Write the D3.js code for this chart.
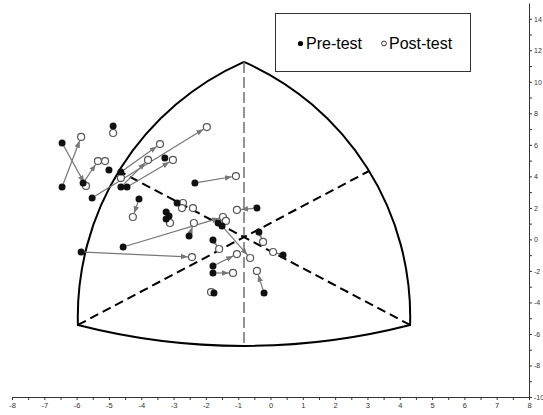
<!DOCTYPE html>
<html>
<head>
<meta charset="utf-8">
<script src="https://cdn.jsdelivr.net/npm/d3@7"></script>
<style>
  html, body { margin: 0; padding: 0; background: #fff; }
  svg { display: block; }
  text { font-family: "Liberation Sans", Arial, sans-serif; }
</style>
</head>
<body>
<div id="chart"></div>
<script>
// ---- data (chart units) ----
const xTickLabels = d3.range(-8, 9, 1);
const yTickLabels = d3.range(-10, 15, 2);

// pre-test points
const preX = [-6.45, -6.45, -5.80, -5.52, -4.87, -5.00, -4.63, -4.63, -4.44, -3.27,
              -2.34, -4.07, -3.23, -3.14, -3.23, -2.89, -0.42, -1.62, -1.50, -2.52,
              -4.56, -5.86, -1.78, -0.36, 0.39, -1.78, -1.78, -0.20, -1.75];
const preY = [6.12, 3.32, 3.58, 2.63, 7.20, 4.40, 4.28, 3.32, 3.32, 5.17,
              3.58, 2.56, 1.74, 1.48, 1.29, 2.31, 1.99, 1.04, 0.85, 0.22,
              -0.48, -0.80, -0.04, 0.47, -0.99, -1.69, -2.13, -3.40, -3.40];
// post-test points
const postX = [-5.71, -5.86, -5.34, -1.97, -4.87, -5.12, -3.42, -4.63, -3.02, -3.79,
               -1.07, -4.26, -3.11, -2.71, -2.74, -2.40, -1.04, -1.47, -1.38, -2.37,
               -0.63, -2.43, -1.59, -0.23, 0.08, -1.04, -1.16, -0.42, -1.84];
const postY = [3.39, 6.50, 4.97, 7.13, 6.75, 4.97, 6.05, 3.90, 5.04, 5.04,
               4.02, 1.42, 1.04, 2.31, 1.99, 1.99, 1.87, 1.42, 1.17, 1.04,
               -1.18, -1.12, -0.61, -0.16, -0.80, -0.93, -2.13, -2.00, -3.34];
// arrows: pre index -> post index
const arrowFrom = [0, 1, 2, 3, 6, 8, 7, 10, 11, 16, 19, 20, 21, 22, 23, 24, 25, 26, 27, 18];
const arrowTo   = [0, 1, 2, 3, 6, 8, 9, 10, 11, 16, 19, 17, 21, 22, 23, 24, 25, 26, 27, 20];

// frame: vertices (top, bottom-left, bottom-right) and arc bulge points (right, bottom, left)
const vertexX = [-0.82, -5.96, 4.32];
const vertexY = [11.26, -5.43, -5.43];
const arcMidX = [3.05, -0.82, -4.69];
const arcMidY = [4.34, -6.76, 4.34];

const legendLabels = ["Pre-test", "Post-test"];

// ---- layout ----
const W = 543, H = 415;
const svg = d3.select("#chart").append("svg").attr("width", W).attr("height", H);

const x = d3.scaleLinear().domain([-8, 8]).range([12, 529]);
const y = d3.scaleLinear().domain([-10, 15]).range([397, 3]);

// axes
const xAxis = d3.axisBottom(x)
  .tickValues(d3.range(-8, 8.01, 0.5))
  .tickFormat(d => Number.isInteger(d) && xTickLabels.includes(d) ? String(d) : "")
  .tickSize(3).tickSizeOuter(0).tickPadding(3);
const gx = svg.append("g").attr("transform", `translate(0,${y(-10)})`).call(xAxis);
gx.selectAll("text").attr("font-size", 7.5).attr("fill", "#333");
gx.selectAll("line,path").attr("stroke", "#333");

const yAxis = d3.axisRight(y)
  .tickValues(d3.range(-10, 15, 1))
  .tickFormat(d => yTickLabels.includes(d) ? String(d) : "")
  .tickSize(3).tickSizeOuter(0).tickPadding(2);
const gy = svg.append("g").attr("transform", `translate(${x(8)},0)`).call(yAxis);
gy.selectAll("text").attr("font-size", 7).attr("fill", "#333");
gy.selectAll("line,path").attr("stroke", "#333");

// ---- frame ----
const V = vertexX.map((vx, i) => [x(vx), y(vertexY[i])]);
const M = arcMidX.map((mx, i) => [x(mx), y(arcMidY[i])]);
const arcDefs = [[0, 2, 0], [2, 1, 1], [1, 0, 2]];

function circleThrough(a, b, c) {
  const d = 2 * (a[0] * (b[1] - c[1]) + b[0] * (c[1] - a[1]) + c[0] * (a[1] - b[1]));
  const a2 = a[0] * a[0] + a[1] * a[1], b2 = b[0] * b[0] + b[1] * b[1], c2 = c[0] * c[0] + c[1] * c[1];
  const ux = (a2 * (b[1] - c[1]) + b2 * (c[1] - a[1]) + c2 * (a[1] - b[1])) / d;
  const uy = (a2 * (c[0] - b[0]) + b2 * (a[0] - c[0]) + c2 * (b[0] - a[0])) / d;
  return [ux, uy, Math.hypot(a[0] - ux, a[1] - uy)];
}
const TAU = Math.PI * 2;
const norm = a => ((a % TAU) + TAU) % TAU;
const framePath = d3.path();
arcDefs.forEach(([i0, i1, mi], k) => {
  const A = V[i0], B = V[i1], P = M[mi];
  const [cx, cy, r] = circleThrough(A, P, B);
  const a0 = Math.atan2(A[1] - cy, A[0] - cx);
  const a1 = Math.atan2(B[1] - cy, B[0] - cx);
  const am = Math.atan2(P[1] - cy, P[0] - cx);
  const cw = norm(am - a0) < norm(a1 - a0);
  if (k === 0) framePath.moveTo(A[0], A[1]);
  framePath.arc(cx, cy, r, a0, a1, !cw);
});
svg.append("path").attr("d", framePath.toString())
  .attr("fill", "none").attr("stroke", "#000").attr("stroke-width", 2);

// dashed medians: vertex -> opposite arc bulge
const medians = [[0, 1], [1, 0], [2, 2]];
medians.forEach(([vi, mi]) => {
  const isVert = vi === 0;
  svg.append("line")
    .attr("x1", V[vi][0]).attr("y1", V[vi][1])
    .attr("x2", M[mi][0]).attr("y2", M[mi][1])
    .attr("stroke", isVert ? "#666" : "#000")
    .attr("stroke-width", isVert ? 1.4 : 2)
    .attr("stroke-dasharray", isVert ? "11,4" : "9,5");
});

// ---- arrows ----
const defs = svg.append("defs");
defs.append("marker").attr("id", "ah")
  .attr("viewBox", "0 0 10 10").attr("refX", 10).attr("refY", 5)
  .attr("markerWidth", 7).attr("markerHeight", 7).attr("markerUnits", "userSpaceOnUse")
  .attr("orient", "auto")
  .append("path").attr("d", "M0,1 L10,5 L0,9 Z").attr("fill", "#777");

const R = 3.5;
arrowFrom.forEach((pi, k) => {
  const qi = arrowTo[k];
  const x1 = x(preX[pi]), y1 = y(preY[pi]), x2 = x(postX[qi]), y2 = y(postY[qi]);
  const L = Math.hypot(x2 - x1, y2 - y1);
  if (L < 2 * R + 2) return;
  const ux = (x2 - x1) / L, uy = (y2 - y1) / L;
  svg.append("line")
    .attr("x1", x1 + ux * R).attr("y1", y1 + uy * R)
    .attr("x2", x2 - ux * (R + 0.6)).attr("y2", y2 - uy * (R + 0.6))
    .attr("stroke", "#777").attr("stroke-width", 1.2)
    .attr("marker-end", "url(#ah)");
});

// ---- points ----
svg.append("g").selectAll("circle").data(postX.map((v, i) => [v, postY[i]])).join("circle")
  .attr("cx", d => x(d[0])).attr("cy", d => y(d[1])).attr("r", R)
  .attr("fill", "#fff").attr("stroke", "#555").attr("stroke-width", 1.2);
svg.append("g").selectAll("circle").data(preX.map((v, i) => [v, preY[i]])).join("circle")
  .attr("cx", d => x(d[0])).attr("cy", d => y(d[1])).attr("r", R)
  .attr("fill", "#111");

// ---- legend ----
const lg = svg.append("g");
lg.append("rect").attr("x", 275.5).attr("y", 13.5).attr("width", 195).attr("height", 58)
  .attr("fill", "#fff").attr("stroke", "#333").attr("stroke-width", 1);
lg.append("circle").attr("cx", 300.5).attr("cy", 43.5).attr("r", 2.6).attr("fill", "#000");
lg.append("text").attr("x", 306).attr("y", 49).attr("font-size", 16).attr("fill", "#000").text(legendLabels[0]);
lg.append("circle").attr("cx", 384).attr("cy", 43.5).attr("r", 2.4)
  .attr("fill", "#fff").attr("stroke", "#333").attr("stroke-width", 1);
lg.append("text").attr("x", 389).attr("y", 49).attr("font-size", 16).attr("fill", "#000").text(legendLabels[1]);
</script>
</body>
</html>
